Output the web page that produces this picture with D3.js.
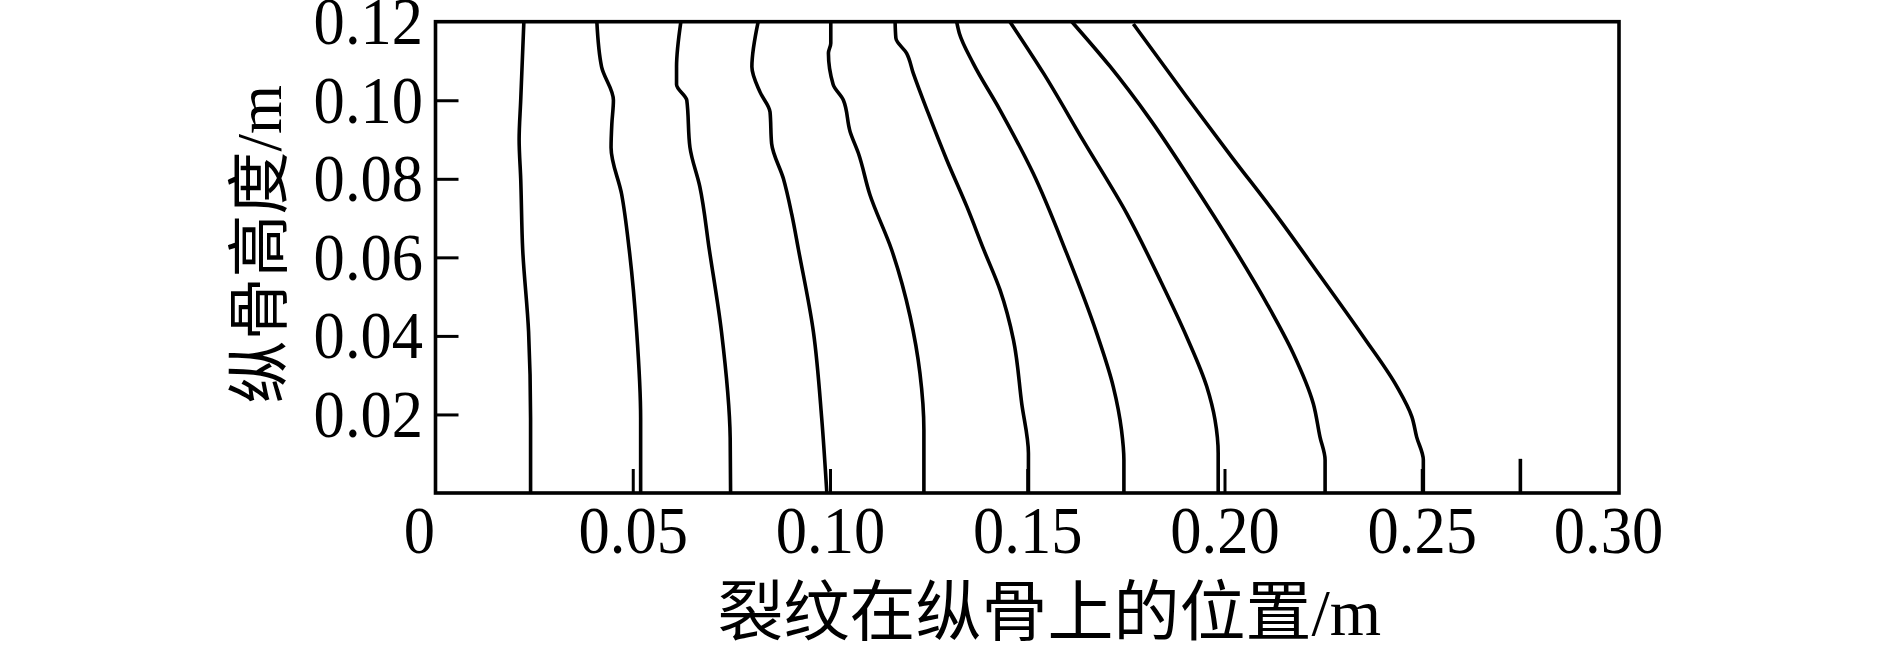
<!DOCTYPE html>
<html>
<head>
<meta charset="utf-8">
<script src="https://cdn.jsdelivr.net/npm/d3@7"></script>
<style>
  html, body { margin: 0; padding: 0; background: #fff; }
  svg { display: block; }
</style>
</head>
<body>
<div id="chart"></div>
<script>
// crack front positions: [position along stiffener (m), stiffener height (m)]
const crack1 = [[0.0241,0],[0.0241,0.019],[0.0236,0.041],[0.0221,0.062],[0.0216,0.080],[0.0212,0.090],[0.0216,0.100],[0.0224,0.120]];
const crack2 = [[0.0520,0],[0.0520,0.019],[0.0510,0.041],[0.0491,0.062],[0.0472,0.076],[0.0445,0.088],[0.0447,0.094],[0.0451,0.100],[0.0421,0.1085],[0.0409,0.120]];
const crack3 = [[0.0748,0],[0.0747,0.014],[0.0725,0.041],[0.0694,0.062],[0.0670,0.078],[0.0645,0.088],[0.0637,0.100],[0.0611,0.104],[0.0611,0.1085],[0.0622,0.120]];
const crack4 = [[0.0992,0],[0.0979,0.019],[0.0958,0.041],[0.0920,0.062],[0.0903,0.071],[0.0882,0.080],[0.0852,0.089],[0.0848,0.097],[0.0823,0.102],[0.0802,0.1085],[0.0818,0.120]];
const crack5 = [[0.1238,0],[0.1238,0.016],[0.1228,0.0305],[0.1203,0.045],[0.1156,0.062],[0.1101,0.076],[0.1072,0.0865],[0.1051,0.092],[0.1034,0.100],[0.1008,0.104],[0.0996,0.112],[0.1002,0.1145],[0.1002,0.120]];
const crack6 = [[0.1503,0],[0.1503,0.0101],[0.1486,0.0228],[0.1465,0.039],[0.1431,0.0517],[0.1390,0.0619],[0.1347,0.0729],[0.1296,0.0848],[0.1249,0.0967],[0.1211,0.1069],[0.1194,0.112],[0.1167,0.1158],[0.1165,0.120]];
const crack7 = [[0.1745,0],[0.1745,0.0084],[0.1739,0.016],[0.1718,0.0271],[0.1676,0.0407],[0.1600,0.061],[0.1515,0.0814],[0.1431,0.0975],[0.1363,0.1094],[0.1328,0.117],[0.1321,0.120]];
const crack8 = [[0.1984,0],[0.1984,0.0101],[0.1976,0.0186],[0.1955,0.0271],[0.1904,0.0398],[0.1837,0.0542],[0.1752,0.0712],[0.1642,0.0897],[0.1541,0.1069],[0.1456,0.120]];
const crack9 = [[0.2255,0],[0.2255,0.0084],[0.2242,0.0143],[0.2225,0.0228],[0.2174,0.0356],[0.2107,0.0483],[0.2022,0.0627],[0.1913,0.0799],[0.1811,0.0952],[0.1710,0.1086],[0.1613,0.120]];
const crack10 = [[0.2504,0],[0.2504,0.0084],[0.2487,0.0143],[0.2475,0.0194],[0.2437,0.0271],[0.2352,0.0398],[0.2238,0.0559],[0.2128,0.0712],[0.2018,0.0856],[0.1904,0.1009],[0.1769,0.1194]];
const crack11 = [[0.275,0],[0.275,0.0087]];

const cracks = [crack1, crack2, crack3, crack4, crack5, crack6, crack7, crack8, crack9, crack10, crack11];

const xTicks = [0, 0.05, 0.10, 0.15, 0.20, 0.25, 0.30];
const yTicks = [0.02, 0.04, 0.06, 0.08, 0.10, 0.12];
const xTitle = '裂纹在纵骨上的位置/m';
const yTitle = '纵骨高度/m';

const W = 1889, H = 647;
const margin = { top: 21.7, right: 270, bottom: 154, left: 435.5 };
const width = W - margin.left - margin.right;
const height = H - margin.top - margin.bottom;

const svg = d3.select('#chart').append('svg')
    .attr('width', W)
    .attr('height', H);

const g = svg.append('g')
    .attr('transform', `translate(${margin.left},${margin.top})`);

const x = d3.scaleLinear().domain([0, 0.30]).range([0, width]);
const y = d3.scaleLinear().domain([0, 0.12]).range([height, 0]);

const numFont = '"Liberation Serif", "Times New Roman", serif';
const cjkFont = '"Liberation Serif", "Noto Sans CJK SC", serif';

// x axis, ticks pointing inward
const xAxis = g.append('g')
    .attr('transform', `translate(0,${height})`)
    .call(d3.axisBottom(x)
        .tickValues(xTicks)
        .tickSizeInner(-24)
        .tickSizeOuter(0)
        .tickPadding(12)
        .tickFormat(d => d === 0 ? '0' : d3.format('.2f')(d)));
xAxis.select('.domain').remove();
xAxis.selectAll('.tick line')
    .attr('stroke', '#000')
    .attr('stroke-width', 3)
    .filter(d => d === 0 || d === 0.30).remove();
xAxis.selectAll('.tick text')
    .attr('font-family', numFont)
    .attr('font-size', 68)
    .attr('fill', '#000')
    .attr('dx', d => d === 0 ? -18 : (d === 0.30 ? -12 : 0))
    .attr('transform', 'scale(0.92,1)');

// y axis
const yAxis = g.append('g')
    .call(d3.axisLeft(y)
        .tickValues(yTicks)
        .tickSizeInner(-23)
        .tickSizeOuter(0)
        .tickPadding(13.5)
        .tickFormat(d3.format('.2f')));
yAxis.select('.domain').remove();
yAxis.selectAll('.tick line')
    .attr('stroke', '#000')
    .attr('stroke-width', 3)
    .filter(d => d === 0.12).remove();
yAxis.selectAll('.tick text')
    .attr('font-family', numFont)
    .attr('font-size', 68)
    .attr('fill', '#000')
    .attr('transform', 'scale(0.92,1)');

// crack fronts
const line = d3.line()
    .x(d => x(d[0]))
    .y(d => y(d[1]))
    .curve(d3.curveMonotoneY);

g.selectAll('.crack')
    .data(cracks)
    .enter().append('path')
    .attr('class', 'crack')
    .attr('d', line)
    .attr('fill', 'none')
    .attr('stroke', '#000')
    .attr('stroke-width', 3.6);

// plot frame
g.append('rect')
    .attr('x', 0)
    .attr('y', 0)
    .attr('width', width)
    .attr('height', height)
    .attr('fill', 'none')
    .attr('stroke', '#000')
    .attr('stroke-width', 3.6);

// axis titles
svg.append('text')
    .attr('x', margin.left + width / 2 + 22)
    .attr('y', 635)
    .attr('text-anchor', 'middle')
    .attr('font-family', cjkFont)
    .attr('font-size', 66)
    .attr('fill', '#000')
    .text(xTitle);

svg.append('text')
    .attr('transform', `translate(281,${margin.top + height / 2 - 13}) rotate(-90)`)
    .attr('text-anchor', 'middle')
    .attr('font-family', cjkFont)
    .attr('font-size', 63)
    .attr('fill', '#000')
    .text(yTitle);
</script>
</body>
</html>
